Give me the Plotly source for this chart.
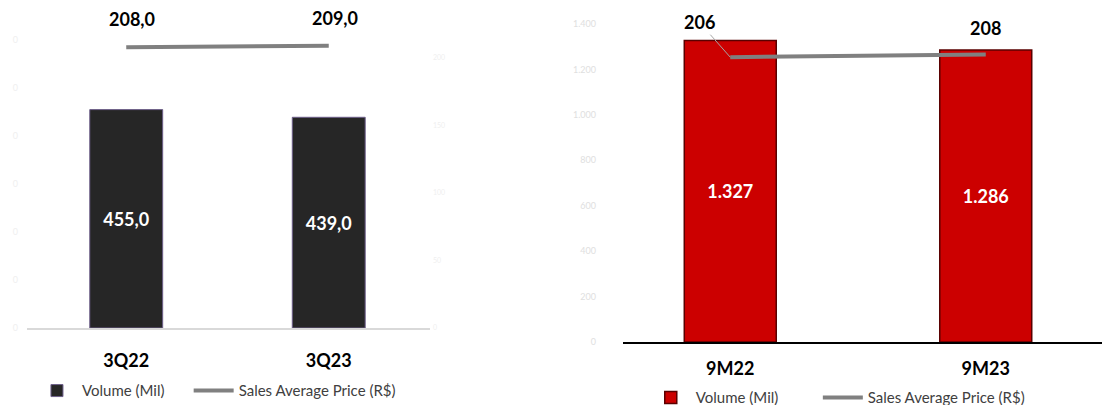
import plotly.graph_objects as go

# data
quarter_cats = ["3Q22", "3Q23"]
quarter_volume = [455.0, 439.0]
quarter_price = [208.0, 209.0]

ytd_cats = ["9M22", "9M23"]
ytd_volume = [1327, 1286]
ytd_price = [206, 208]

left_ticks = [0, 100, 200, 300, 400, 500, 600]
left_price_ticks = [0, 50, 100, 150, 200]
right_ticks = [0, 200, 400, 600, 800, 1000, 1200, 1400]

FONT = "Lato, 'Open Sans', sans-serif"
GRAY_LINE = "#808080"
FAINT = "#efefef"
# non-breaking spaces widen the gap between the two legend entries
PAD_LEFT = "\u00a0" * 5
PAD_RIGHT = "\u00a0" * 9

fig = go.Figure()

fig.add_trace(go.Bar(
    x=quarter_cats, y=quarter_volume, name="Volume (Mil)" + PAD_LEFT,
    xaxis="x", yaxis="y", width=0.36,
    marker=dict(color="#262626", line=dict(color="#6d5f8a", width=1)),
    texttemplate="%{y:.1f}", textposition="inside", insidetextanchor="middle",
    textangle=0, textfont=dict(color="white", size=18, family=FONT, weight="bold"),
    legend="legend",
))
fig.add_trace(go.Scatter(
    x=quarter_cats, y=quarter_price, name="Sales Average Price (R$)",
    xaxis="x", yaxis="y2", mode="lines",
    line=dict(color=GRAY_LINE, width=4),
    legend="legend",
))
fig.add_trace(go.Bar(
    x=ytd_cats, y=ytd_volume, name="Volume (Mil)" + PAD_RIGHT,
    xaxis="x2", yaxis="y3", width=0.36,
    marker=dict(color="#cc0000", line=dict(color="#5a0000", width=1.5)),
    texttemplate="%{y:,.0f}", textposition="inside", insidetextanchor="middle",
    textangle=0, textfont=dict(color="white", size=18, family=FONT, weight="bold"),
    legend="legend2",
))
fig.add_trace(go.Scatter(
    x=ytd_cats, y=ytd_price, name="Sales Average Price (R$)",
    xaxis="x2", yaxis="y4", mode="lines",
    line=dict(color=GRAY_LINE, width=4),
    legend="legend2",
))

# price labels above the line
label_font = dict(size=18, color="black", family=FONT, weight="bold")
for cat, val in zip(quarter_cats, quarter_price):
    fig.add_annotation(x=cat, y=val, xref="x", yref="y2",
                       text=f"{val:.1f}".replace(".", ","), showarrow=False,
                       xshift=6, yshift=28, font=label_font)
fig.add_annotation(x=ytd_cats[0], y=ytd_price[0], xref="x2", yref="y4",
                   text=str(ytd_price[0]), showarrow=True, arrowhead=0,
                   arrowwidth=1, arrowcolor="#a6a6a6", ax=-31, ay=-35,
                   font=label_font)
fig.add_annotation(x=ytd_cats[1], y=ytd_price[1], xref="x2", yref="y4",
                   text=str(ytd_price[1]), showarrow=False, yshift=26,
                   font=label_font)

cat_font = dict(size=18, color="black", family=FONT, weight="bold")
legend_font = dict(size=15, color="#404040", family=FONT)
fig.update_layout(
    width=1102, height=405,
    margin=dict(l=0, r=0, t=0, b=0, autoexpand=False),
    paper_bgcolor="white", plot_bgcolor="white",
    separators=",.",
    font=dict(family=FONT),
    xaxis=dict(domain=[0.0245, 0.3902], anchor="y", range=[-0.49, 1.5],
               showline=True, linecolor="#d9d9d9", linewidth=1.5, automargin=False,
               showgrid=False, ticks="", tickfont=cat_font, ticklabelstandoff=16),
    yaxis=dict(domain=[0.1901, 0.9012], anchor="x", range=[0, 600],
               tickvals=left_ticks, ticktext=["0"] * len(left_ticks), automargin=False,
               showgrid=False, zeroline=False, tickfont=dict(size=9, color=FAINT),
               ticklabelstandoff=8),
    yaxis2=dict(overlaying="y", side="right", anchor="x", range=[0, 213.3],
                tickvals=left_price_ticks, showgrid=False, zeroline=False,
                automargin=False,
                tickfont=dict(size=7, color=FAINT), ticklabelstandoff=2),
    xaxis2=dict(domain=[0.5653, 1.0], anchor="y3", range=[-0.42, 1.455],
                showline=True, linecolor="black", linewidth=1.5, automargin=False,
                showgrid=False, ticks="", tickfont=cat_font, ticklabelstandoff=10),
    yaxis3=dict(domain=[0.1556, 0.9407], anchor="x2", range=[0, 1400],
                tickvals=right_ticks, tickformat=",.0f", showgrid=False,
                automargin=False,
                zeroline=False, tickfont=dict(size=9, color="#e0e0e0"),
                ticklabelstandoff=26),
    yaxis4=dict(overlaying="y3", side="right", anchor="x2", range=[0, 230],
                automargin=False,
                showgrid=False, zeroline=False, showticklabels=False),
    legend=dict(orientation="h", x=0.029, xanchor="left", y=0.035, yanchor="middle",
                font=legend_font, itemwidth=40, bgcolor="rgba(0,0,0,0)"),
    legend2=dict(orientation="h", x=0.586, xanchor="left", y=0.018, yanchor="middle",
                 font=legend_font, itemwidth=40, bgcolor="rgba(0,0,0,0)"),
)

# the page's default body margin would shift the figure by 8px
fig.write_html("out.html", config={"displayModeBar": False},
               post_script="document.body.style.margin='0';")
